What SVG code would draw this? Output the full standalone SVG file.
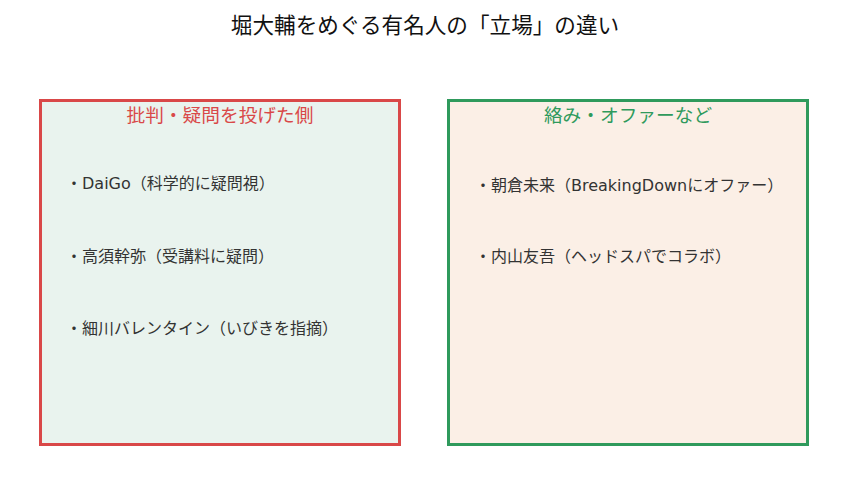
<svg xmlns="http://www.w3.org/2000/svg" width="860" height="480" viewBox="0 0 860 480">
<style>
text { font-family: "DejaVu Sans", "Noto Sans CJK JP", sans-serif; }
.title { font-size: 21.6px; fill: #111; text-anchor: middle; }
.head { font-size: 18.7px; text-anchor: middle; }
.item { font-size: 16px; fill: #333; }
.panel { stroke-width: 3; }
</style>
<rect width="860" height="480" fill="#ffffff"/>
<text class="title" x="425" y="33">堀大輔をめぐる有名人の「立場」の違い</text>
<g id="critics">
  <rect class="panel" x="40.5" y="100.5" width="359" height="344" fill="#e9f3ee" stroke="#d94848"/>
  <text class="head" x="220" y="122" fill="#d94848">批判・疑問を投げた側</text>
  <text class="item" x="66" y="189">・DaiGo（科学的に疑問視）</text>
  <text class="item" x="66" y="262">・高須幹弥（受講料に疑問）</text>
  <text class="item" x="66" y="334">・細川バレンタイン（いびきを指摘）</text>
</g>
<g id="involved">
  <rect class="panel" x="448.5" y="100.5" width="359" height="344" fill="#fbefe6" stroke="#2f9a5c"/>
  <text class="head" x="628" y="122" fill="#2f9a5c">絡み・オファーなど</text>
  <text class="item" x="475" y="191">・朝倉未来（BreakingDownにオファー）</text>
  <text class="item" x="475" y="262">・内山友吾（ヘッドスパでコラボ）</text>
</g>
<g id="connectors"></g>
</svg>
